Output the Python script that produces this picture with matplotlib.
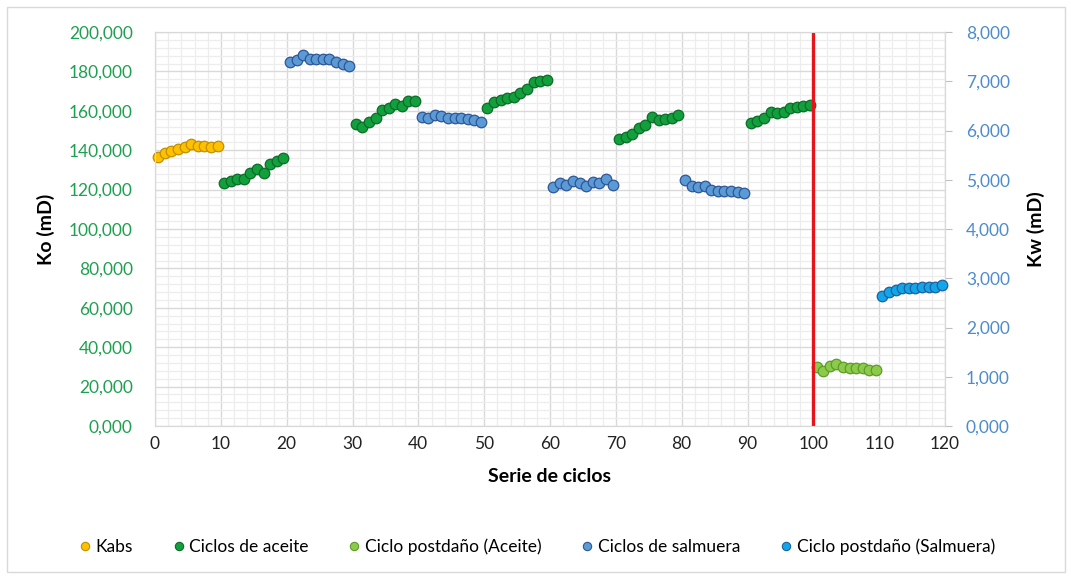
import numpy as np
import matplotlib
matplotlib.use('Agg')
import matplotlib.pyplot as plt
from matplotlib.lines import Line2D
from matplotlib.patches import Rectangle
from matplotlib.ticker import FuncFormatter, MultipleLocator

plt.rcParams['font.family'] = ['Lato', 'DejaVu Sans']

# permeabilidad al aceite Ko (mD), eje izquierdo
kabs = [136.7, 138.7, 139.7, 140.6, 141.8, 143.0, 142.3, 142.1, 141.5, 142.3]
aceite_1 = [123.5, 124.4, 125.2, 125.5, 128.6, 130.3, 128.6, 132.8, 134.7, 135.9]
aceite_2 = [153.1, 151.9, 154.2, 156.2, 160.4, 161.3, 163.3, 162.6, 165.0, 165.0]
aceite_3 = [161.3, 164.6, 165.5, 166.6, 167.2, 168.9, 171.1, 174.8, 175.1, 175.6]
aceite_4 = [145.5, 146.5, 148.2, 151.1, 152.8, 156.7, 155.3, 155.8, 156.2, 157.9]
aceite_5 = [154.0, 155.0, 156.2, 159.5, 159.0, 159.5, 161.3, 162.1, 162.4, 162.9]
postdano_aceite = [30.1, 27.9, 30.6, 31.3, 30.1, 29.3, 29.3, 29.3, 28.4, 28.4]

# permeabilidad a la salmuera Kw (mD), eje derecho
salmuera_1 = [7.40, 7.44, 7.54, 7.45, 7.46, 7.46, 7.45, 7.40, 7.35, 7.31]
salmuera_2 = [6.28, 6.26, 6.32, 6.30, 6.26, 6.26, 6.25, 6.23, 6.21, 6.18]
salmuera_3 = [4.85, 4.94, 4.89, 4.98, 4.94, 4.87, 4.96, 4.94, 5.01, 4.89]
salmuera_4 = [5.00, 4.87, 4.86, 4.87, 4.80, 4.78, 4.78, 4.78, 4.76, 4.74]
postdano_salmuera = [2.64, 2.73, 2.76, 2.80, 2.81, 2.81, 2.83, 2.83, 2.83, 2.86]

# serie de ciclos (centro de cada ciclo)
x_kabs = np.arange(0.5, 10, 1)
x_aceite = [np.arange(s + 0.5, s + 10, 1) for s in (10, 30, 50, 70, 90)]
x_salmuera = [np.arange(s + 0.5, s + 10, 1) for s in (20, 40, 60, 80)]
x_post_aceite = np.arange(100.5, 110, 1)
x_post_salmuera = np.arange(110.5, 120, 1)
dano = 100

estilos = {
    'Kabs': ('#FFC000', '#BF9000'),
    'Ciclos de aceite': ('#12A03C', '#0B6B28'),
    'Ciclo postdaño (Aceite)': ('#8CCB4A', '#5E9A2C'),
    'Ciclos de salmuera': ('#5B9BD5', '#2F5597'),
    'Ciclo postdaño (Salmuera)': ('#12A6E8', '#1F5FA0'),
}


def coma(v, pos):
    return f'{v:,.3f}'.replace('.', ',')


def puntos(ax, x, y, nombre, z=3):
    fc, ec = estilos[nombre]
    ax.plot(x, y, 'o', ms=7.6, mfc=fc, mec=ec, mew=0.9, zorder=z, clip_on=False)


fig = plt.figure(figsize=(10.71, 5.78), dpi=100)
fig.patches.append(Rectangle((6.5 / 1071, 6.5 / 578), 1 - 13 / 1071, 1 - 13 / 578,
                             transform=fig.transFigure, fill=False, ec='#D9D9D9', lw=1))

ax = fig.add_axes([155 / 1071, 1 - 426 / 578, 790 / 1071, 394 / 578])
ax2 = ax.twinx()

ax.set_xlim(0, 120)
ax.set_ylim(0, 200)
ax2.set_ylim(0, 8)

ax.xaxis.set_major_locator(MultipleLocator(10))
ax.xaxis.set_minor_locator(MultipleLocator(2))
ax.yaxis.set_major_locator(MultipleLocator(20))
ax.yaxis.set_minor_locator(MultipleLocator(4))
ax2.yaxis.set_major_locator(MultipleLocator(1))
ax.yaxis.set_major_formatter(FuncFormatter(coma))
ax2.yaxis.set_major_formatter(FuncFormatter(coma))

ax.grid(which='major', color='#D9D9D9', lw=1.0)
ax.grid(which='minor', color='#EDEDED', lw=0.9)
ax.set_axisbelow(True)

for a in (ax, ax2):
    for s in a.spines.values():
        s.set_color('#D9D9D9')
ax.tick_params(axis='y', which='major', length=0, labelsize=12.5, labelcolor='#1FA050', pad=16)
ax.tick_params(axis='x', which='major', length=0, labelsize=12.5, labelcolor='#222222', pad=7)
ax.tick_params(which='minor', length=0)
ax2.tick_params(axis='y', length=5, color='#BFBFBF', labelsize=12.5, labelcolor='#4E8CCB', pad=10)

# la serie de salmuera va en el eje secundario, dibujado encima de la rejilla
puntos(ax, x_kabs, kabs, 'Kabs')
for x, y in zip(x_aceite, [aceite_1, aceite_2, aceite_3, aceite_4, aceite_5]):
    puntos(ax, x, y, 'Ciclos de aceite')
puntos(ax, x_post_aceite, postdano_aceite, 'Ciclo postdaño (Aceite)')
for x, y in zip(x_salmuera, [salmuera_1, salmuera_2, salmuera_3, salmuera_4]):
    puntos(ax2, x, y, 'Ciclos de salmuera')
puntos(ax2, x_post_salmuera, postdano_salmuera, 'Ciclo postdaño (Salmuera)')

ax.axvline(dano, color='#E8141B', lw=2.4, zorder=5)

ax.set_ylabel('Ko (mD)', fontsize=14, fontweight='bold', labelpad=10)
ax2.set_ylabel('Kw (mD)', fontsize=14, fontweight='bold', labelpad=12)
ax.set_xlabel('Serie de ciclos', fontsize=14, fontweight='bold', labelpad=12)

handles = [Line2D([], [], ls='none', marker='o', ms=6, mfc=fc, mec=ec, mew=0.8)
           for fc, ec in estilos.values()]
fig.legend(handles, list(estilos.keys()), loc='center', bbox_to_anchor=(0.5, 1 - 547 / 578),
           ncol=5, frameon=False, fontsize=12.5, handletextpad=0.1, columnspacing=2.15,
           handlelength=1.0)

fig.savefig('out.png', dpi=100)
